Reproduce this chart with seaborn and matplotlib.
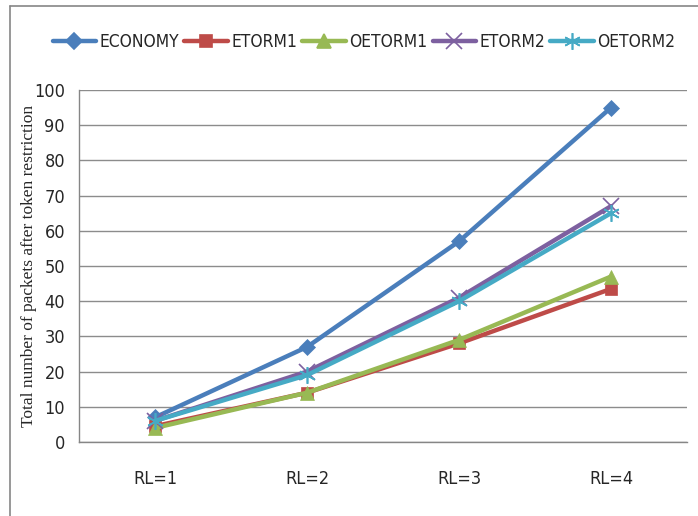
import matplotlib
matplotlib.use("Agg")
import matplotlib.pyplot as plt
import seaborn as sns
import pandas as pd
from matplotlib.lines import Line2D

# data
levels = ["RL=1", "RL=2", "RL=3", "RL=4"]
economy = [7, 27, 57, 95]
etorm1 = [4.5, 14, 28, 43.5]
oetorm1 = [4, 14, 29, 47]
etorm2 = [6, 20, 41, 67]
oetorm2 = [6, 19, 40, 65]

names = ["ECONOMY", "ETORM1", "OETORM1", "ETORM2", "OETORM2"]
series = [economy, etorm1, oetorm1, etorm2, oetorm2]
colors = ["#4A7EBB", "#BE4B48", "#98B954", "#7D60A0", "#46AAC5"]
markers = ["D", "s", "^", "x", (6, 2, 0)]
msizes = [8, 9, 10, 11, 12]

rows = []
for name, vals in zip(names, series):
    for i, v in enumerate(vals):
        rows.append({"series": name, "pos": i, "value": v})
df = pd.DataFrame(rows)

sns.set_style("white")
plt.rcParams["font.family"] = ["DejaVu Sans"]
plt.rcParams["font.stretch"] = "condensed"

fig = plt.figure(figsize=(6.98, 5.16), dpi=100)
ax = fig.add_axes([79 / 698, 74 / 516, 608 / 698, 352 / 516])

for name, col, mk, ms in zip(names, colors, markers, msizes):
    sub = df[df["series"] == name]
    sns.lineplot(data=sub, x="pos", y="value", ax=ax, color=col, linewidth=3.2,
                 marker=mk, markersize=ms, markeredgecolor=col,
                 markeredgewidth=1.2 if mk in ("x", (6, 2, 0)) else 0.5,
                 legend=False)

ax.set_xlim(-0.5, len(levels) - 0.5)
ax.set_ylim(0, 100)
ax.set_yticks(range(0, 101, 10))
ax.set_xticks(range(len(levels)))
ax.set_xticklabels(levels)
ax.set_xticks([x + 0.5 for x in range(-1, len(levels))], minor=True)
ax.tick_params(axis="x", which="major", length=0, pad=20, labelsize=13)
ax.tick_params(axis="x", which="minor", length=7, color="#868686", width=1, direction="out")
ax.tick_params(axis="y", length=6, color="#868686", width=1, direction="out", labelsize=13, pad=4)
ax.yaxis.grid(True, color="#8C8C8C", linewidth=1)
ax.set_axisbelow(True)
for s in ["top", "right"]:
    ax.spines[s].set_visible(False)
for s in ["left", "bottom"]:
    ax.spines[s].set_color("#868686")
    ax.spines[s].set_linewidth(1)
ax.set_xlabel("")
ax.set_ylabel("Total number of packets after token restriction",
              family=["Liberation Serif", "DejaVu Serif"], stretch="normal",
              fontsize=12.5, labelpad=-2)

handles = [Line2D([], [], color=c, marker=m, markersize=s, linewidth=3.2,
                  markeredgecolor=c, markeredgewidth=1.2)
           for c, m, s in zip(colors, markers, msizes)]
fig.legend(handles, names, loc="center", bbox_to_anchor=(364 / 698, 1 - 42 / 516),
           ncol=5, frameon=False, fontsize=12.5, handlelength=2.5, handletextpad=0.2,
           columnspacing=0.3)

# outer chart border (top and left visible)
fig.add_artist(Line2D([10 / 698, 10 / 698], [0, 1 - 6 / 516], color="#868686", linewidth=1.2))
fig.add_artist(Line2D([10 / 698, 1], [1 - 6 / 516, 1 - 6 / 516], color="#868686", linewidth=1.2))

fig.savefig("out.png", dpi=100)
